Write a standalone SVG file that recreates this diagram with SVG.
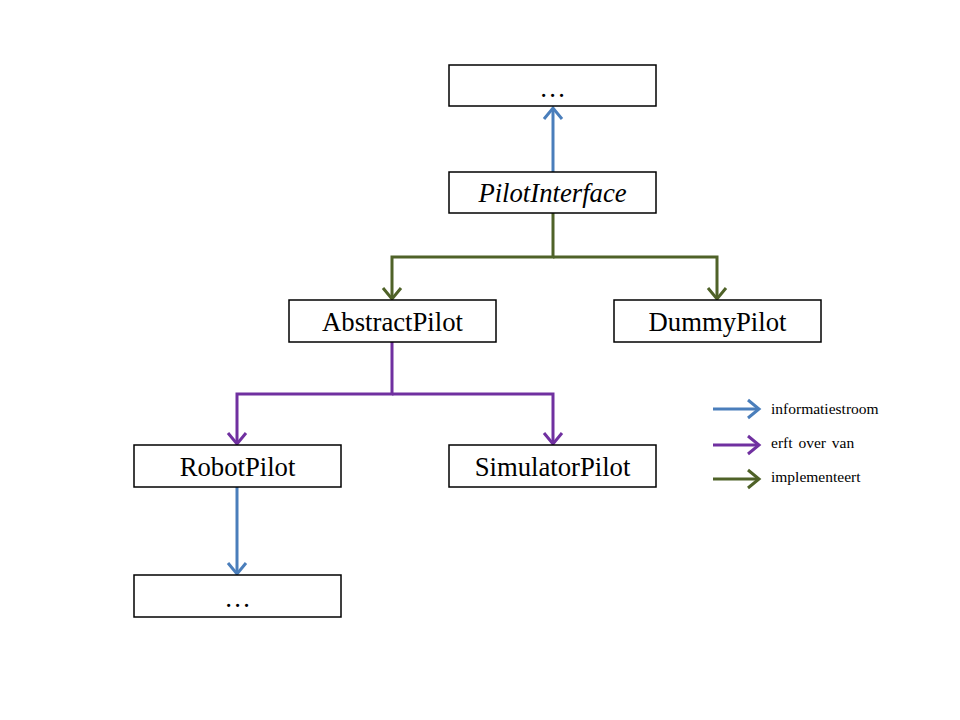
<svg xmlns="http://www.w3.org/2000/svg" width="960" height="720" viewBox="0 0 960 720">
<style>
.box{fill:#fff;stroke:#000;stroke-width:1.5}
.lbl{font-family:"Liberation Serif","Times New Roman",serif;font-size:26.7px;text-anchor:middle;fill:#000}
.leg{font-family:"Liberation Serif","Times New Roman",serif;font-size:15.5px;fill:#000}
.c{fill:none;stroke-width:3}
.b{stroke:#4A7EBB}
.p{stroke:#7030A0}
.g{stroke:#4F6228}
</style>
<defs>
<marker id="ab" markerUnits="userSpaceOnUse" markerWidth="24" markerHeight="24" refX="13" refY="10" orient="auto" viewBox="0 0 24 20"><path d="M2,1 L13,10 L2,19" fill="none" stroke="#4A7EBB" stroke-width="3"/></marker>
<marker id="ap" markerUnits="userSpaceOnUse" markerWidth="24" markerHeight="24" refX="13" refY="10" orient="auto" viewBox="0 0 24 20"><path d="M2,1 L13,10 L2,19" fill="none" stroke="#7030A0" stroke-width="3"/></marker>
<marker id="ag" markerUnits="userSpaceOnUse" markerWidth="24" markerHeight="24" refX="13" refY="10" orient="auto" viewBox="0 0 24 20"><path d="M2,1 L13,10 L2,19" fill="none" stroke="#4F6228" stroke-width="3"/></marker>
</defs>
<rect width="960" height="720" fill="#fff"/>
<g id="connectors">
<path class="c b" d="M553,172 V108" marker-end="url(#ab)"/>
<path class="c g" d="M553,213 V257 H392 V299" marker-end="url(#ag)"/>
<path class="c g" d="M553,257 H717 V299" marker-end="url(#ag)"/>
<path class="c p" d="M392,342 V394 H237 V444" marker-end="url(#ap)"/>
<path class="c p" d="M392,394 H553 V444" marker-end="url(#ap)"/>
<path class="c b" d="M237,487 V574" marker-end="url(#ab)"/>
</g>
<g id="node-top"><rect class="box" x="449" y="65" width="207" height="41"/><text class="lbl" x="552.5" y="97">…</text></g>
<g id="node-pilotinterface"><rect class="box" x="449" y="172" width="207" height="41"/><text class="lbl" x="552.5" y="202" font-style="italic">PilotInterface</text></g>
<g id="node-abstractpilot"><rect class="box" x="289" y="300" width="207" height="42"/><text class="lbl" x="392.5" y="331">AbstractPilot</text></g>
<g id="node-dummypilot"><rect class="box" x="614" y="300" width="207" height="42"/><text class="lbl" x="717.5" y="331">DummyPilot</text></g>
<g id="node-robotpilot"><rect class="box" x="134" y="445" width="207" height="42"/><text class="lbl" x="237.5" y="476">RobotPilot</text></g>
<g id="node-simulatorpilot"><rect class="box" x="449" y="445" width="207" height="42"/><text class="lbl" x="552.5" y="476">SimulatorPilot</text></g>
<g id="node-bottom"><rect class="box" x="134" y="575" width="207" height="42"/><text class="lbl" x="237.5" y="607">…</text></g>
<g id="legend">
<path class="c b" d="M713,409 H759" marker-end="url(#ab)"/>
<text class="leg" x="771" y="414">informatiestroom</text>
<path class="c p" d="M713,445 H759" marker-end="url(#ap)"/>
<text class="leg" x="771" y="448" word-spacing="2">erft over van</text>
<path class="c g" d="M713,479 H759" marker-end="url(#ag)"/>
<text class="leg" x="771" y="482">implementeert</text>
</g>
</svg>
